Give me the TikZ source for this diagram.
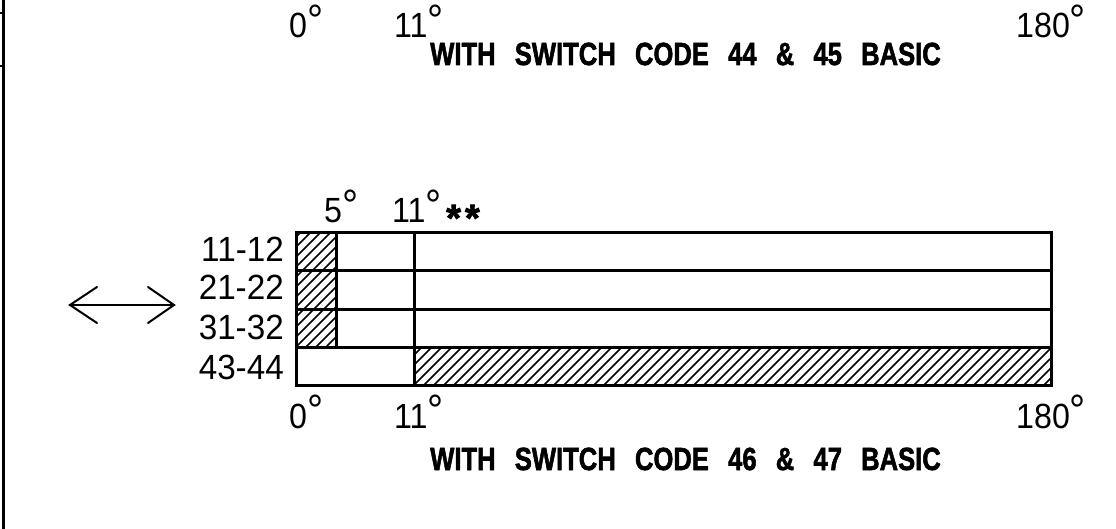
\documentclass[tikz,border=0pt]{standalone}
\usepackage{fontspec}
\setmainfont{Liberation Sans}
\newfontfamily\cadfont{Liberation Sans}
\newfontfamily\cadbold{Liberation Sans Bold}[FakeBold=2]
\newcommand{\dg}{\raisebox{0.08em}{\scalebox{1.25}{°}}}
\begin{document}
\begin{tikzpicture}[x=1pt,y=-1pt,
  frame/.style={line width=3pt},
  grid/.style={line width=3pt},
  hatchline/.style={line width=1.6pt},
  deg/.style={font=\cadfont\fontsize{35}{35}\selectfont, inner sep=0pt, anchor=base west, xscale=0.92},
  rowlab/.style={font=\cadfont\fontsize{35}{35}\selectfont, inner sep=0pt, anchor=base east, xscale=0.95},
  title/.style={font=\cadbold\fontsize{32}{32}\selectfont, inner sep=0pt, anchor=base west},
  stars/.style={font=\cadbold\fontsize{38}{38}\selectfont, inner sep=0pt, anchor=base west},
  dblarrow/.style={line width=2pt, line cap=round}
]
\useasboundingbox (0,0) rectangle (1116,529);
% left border
\draw[frame] (3,0) -- (3,529);
\draw[line width=2pt] (0,13) -- (3,13);
\draw[line width=2pt] (0,66) -- (3,66);

% top labels
\node[deg] (t0) at (289,38) {0\dg};
\node[deg] (t11) at (394,38) {11\dg};
\node[deg] (t180) at (1016,38) {180\dg};
\node[title] (title1) at (430,65) {\scalebox{0.8}[1]{WITH\hspace{24pt}SWITCH\hspace{24pt}CODE\hspace{24pt}44\hspace{24pt}\&\hspace{24pt}45\hspace{24pt}BASIC}};

% table coordinates
\coordinate (A) at (296,233);
\coordinate (B) at (1051,385);
% hatching
\begin{scope}
  \clip (296,233) rectangle (336,347);
  \foreach \i in {-14,...,6} {\draw[hatchline] (296+\i*10,347) -- (296+\i*10+114,233);}
\end{scope}
\begin{scope}
  \clip (414,347) rectangle (1051,385);
  \foreach \i in {-4,...,64} {\draw[hatchline] (414+\i*10,385) -- (414+\i*10+38,347);}
\end{scope}
% grid
\draw[grid] (A) rectangle (B);
\draw[grid] (296,271) -- (1051,271);
\draw[grid] (296,309) -- (1051,309);
\draw[grid] (296,347) -- (1051,347);
\draw[grid] (336,233) -- (336,347);
\draw[grid] (414,233) -- (414,385);

% header of table
\node[deg] (h5) at (324,223) {5\dg};
\node[deg] (h11) at (392,223) {11\dg};
\node[stars] (hs) at (446,231) {*\kern4pt*};

% row labels
\node[rowlab] (r1) at (284,262) {11-12};
\node[rowlab] (r2) at (284,300) {21-22};
\node[rowlab] (r3) at (284,339) {31-32};
\node[rowlab] (r4) at (284,379) {43-44};

% arrow
\coordinate (la) at (70,305);
\coordinate (ra) at (174,305);
\draw[dblarrow] (la) -- (ra);
\draw[dblarrow] (97,287) -- (la) -- (97,323);
\draw[dblarrow] (148,287) -- (ra) -- (148,323);

% bottom labels
\node[deg] (b0) at (289,428) {0\dg};
\node[deg] (b11) at (394,428) {11\dg};
\node[deg] (b180) at (1016,428) {180\dg};
\node[title] (title2) at (430,470) {\scalebox{0.8}[1]{WITH\hspace{24pt}SWITCH\hspace{24pt}CODE\hspace{24pt}46\hspace{24pt}\&\hspace{24pt}47\hspace{24pt}BASIC}};
\end{tikzpicture}
\end{document}
